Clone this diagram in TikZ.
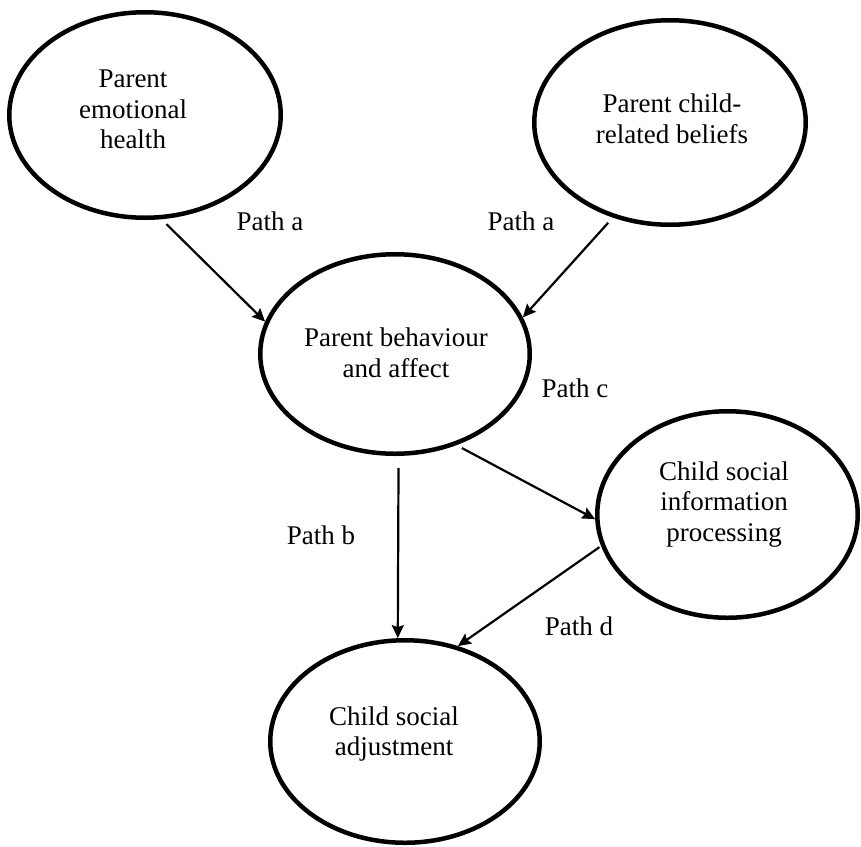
\documentclass[tikz,border=0pt]{standalone}
\usepackage{fontspec}
\setmainfont{Liberation Serif}
\usetikzlibrary{shapes.geometric,arrows.meta}
\begin{document}
\begin{tikzpicture}[x=1pt,y=-1pt,
  blob/.style={draw, ellipse, line width=4.5pt, inner sep=0pt},
  lbl/.style={font=\fontsize{27}{30.5}\selectfont, align=center, inner sep=0pt},
  pathlbl/.style={font=\fontsize{27}{30.5}\selectfont, inner sep=0pt, anchor=base},
  link/.style={line width=2.2pt, -{Stealth[length=13pt,width=12pt,inset=2pt]}}]
\useasboundingbox (0,0) rectangle (861,846);
% ellipses
\node[blob, minimum width=271.5pt, minimum height=205.5pt] (pe) at (145,115) {};
\node[blob, minimum width=271.5pt, minimum height=204.5pt] (pc) at (670,122.5) {};
\node[blob, minimum width=269.5pt, minimum height=199.5pt] (pb) at (395,354) {};
\node[blob, minimum width=260.5pt, minimum height=206.5pt] (sip) at (727.5,514.5) {};
\node[blob, minimum width=269.5pt, minimum height=202.5pt] (ca) at (405,741.5) {};
% texts
\node[lbl] (tpe) at (133,109.5) {Parent\\emotional\\health};
\node[lbl] (tpc) at (672,119) {Parent child-\\related beliefs};
\node[lbl] (tpb) at (396,353) {Parent behaviour\\and affect};
\node[lbl] (tsip) at (724,504.4) {Child social\\information\\processing};
\node[lbl] (tca) at (394,734) {Child social\\adjustment};
% connectors
\draw[link, shorten <=7pt] (pe.-81) -- (pb.166);
\draw[link, shorten <=7pt] (pc.-121) -- (pb.16);
\draw[link, shorten <=6pt] (pb.-56) -- (sip.182);
\draw[link, shorten <=12pt] (pb.-88) -- (ca.94);
\draw[link, shorten <=2pt] (sip.-166) -- (ca.61);
% path labels
\node[pathlbl] (la1) at (270,230) {Path a};
\node[pathlbl] (la2) at (521,230) {Path a};
\node[pathlbl] (lc) at (575,397) {Path c};
\node[pathlbl] (lb) at (321,544) {Path b};
\node[pathlbl] (ld) at (579,635) {Path d};
\end{tikzpicture}
\end{document}
